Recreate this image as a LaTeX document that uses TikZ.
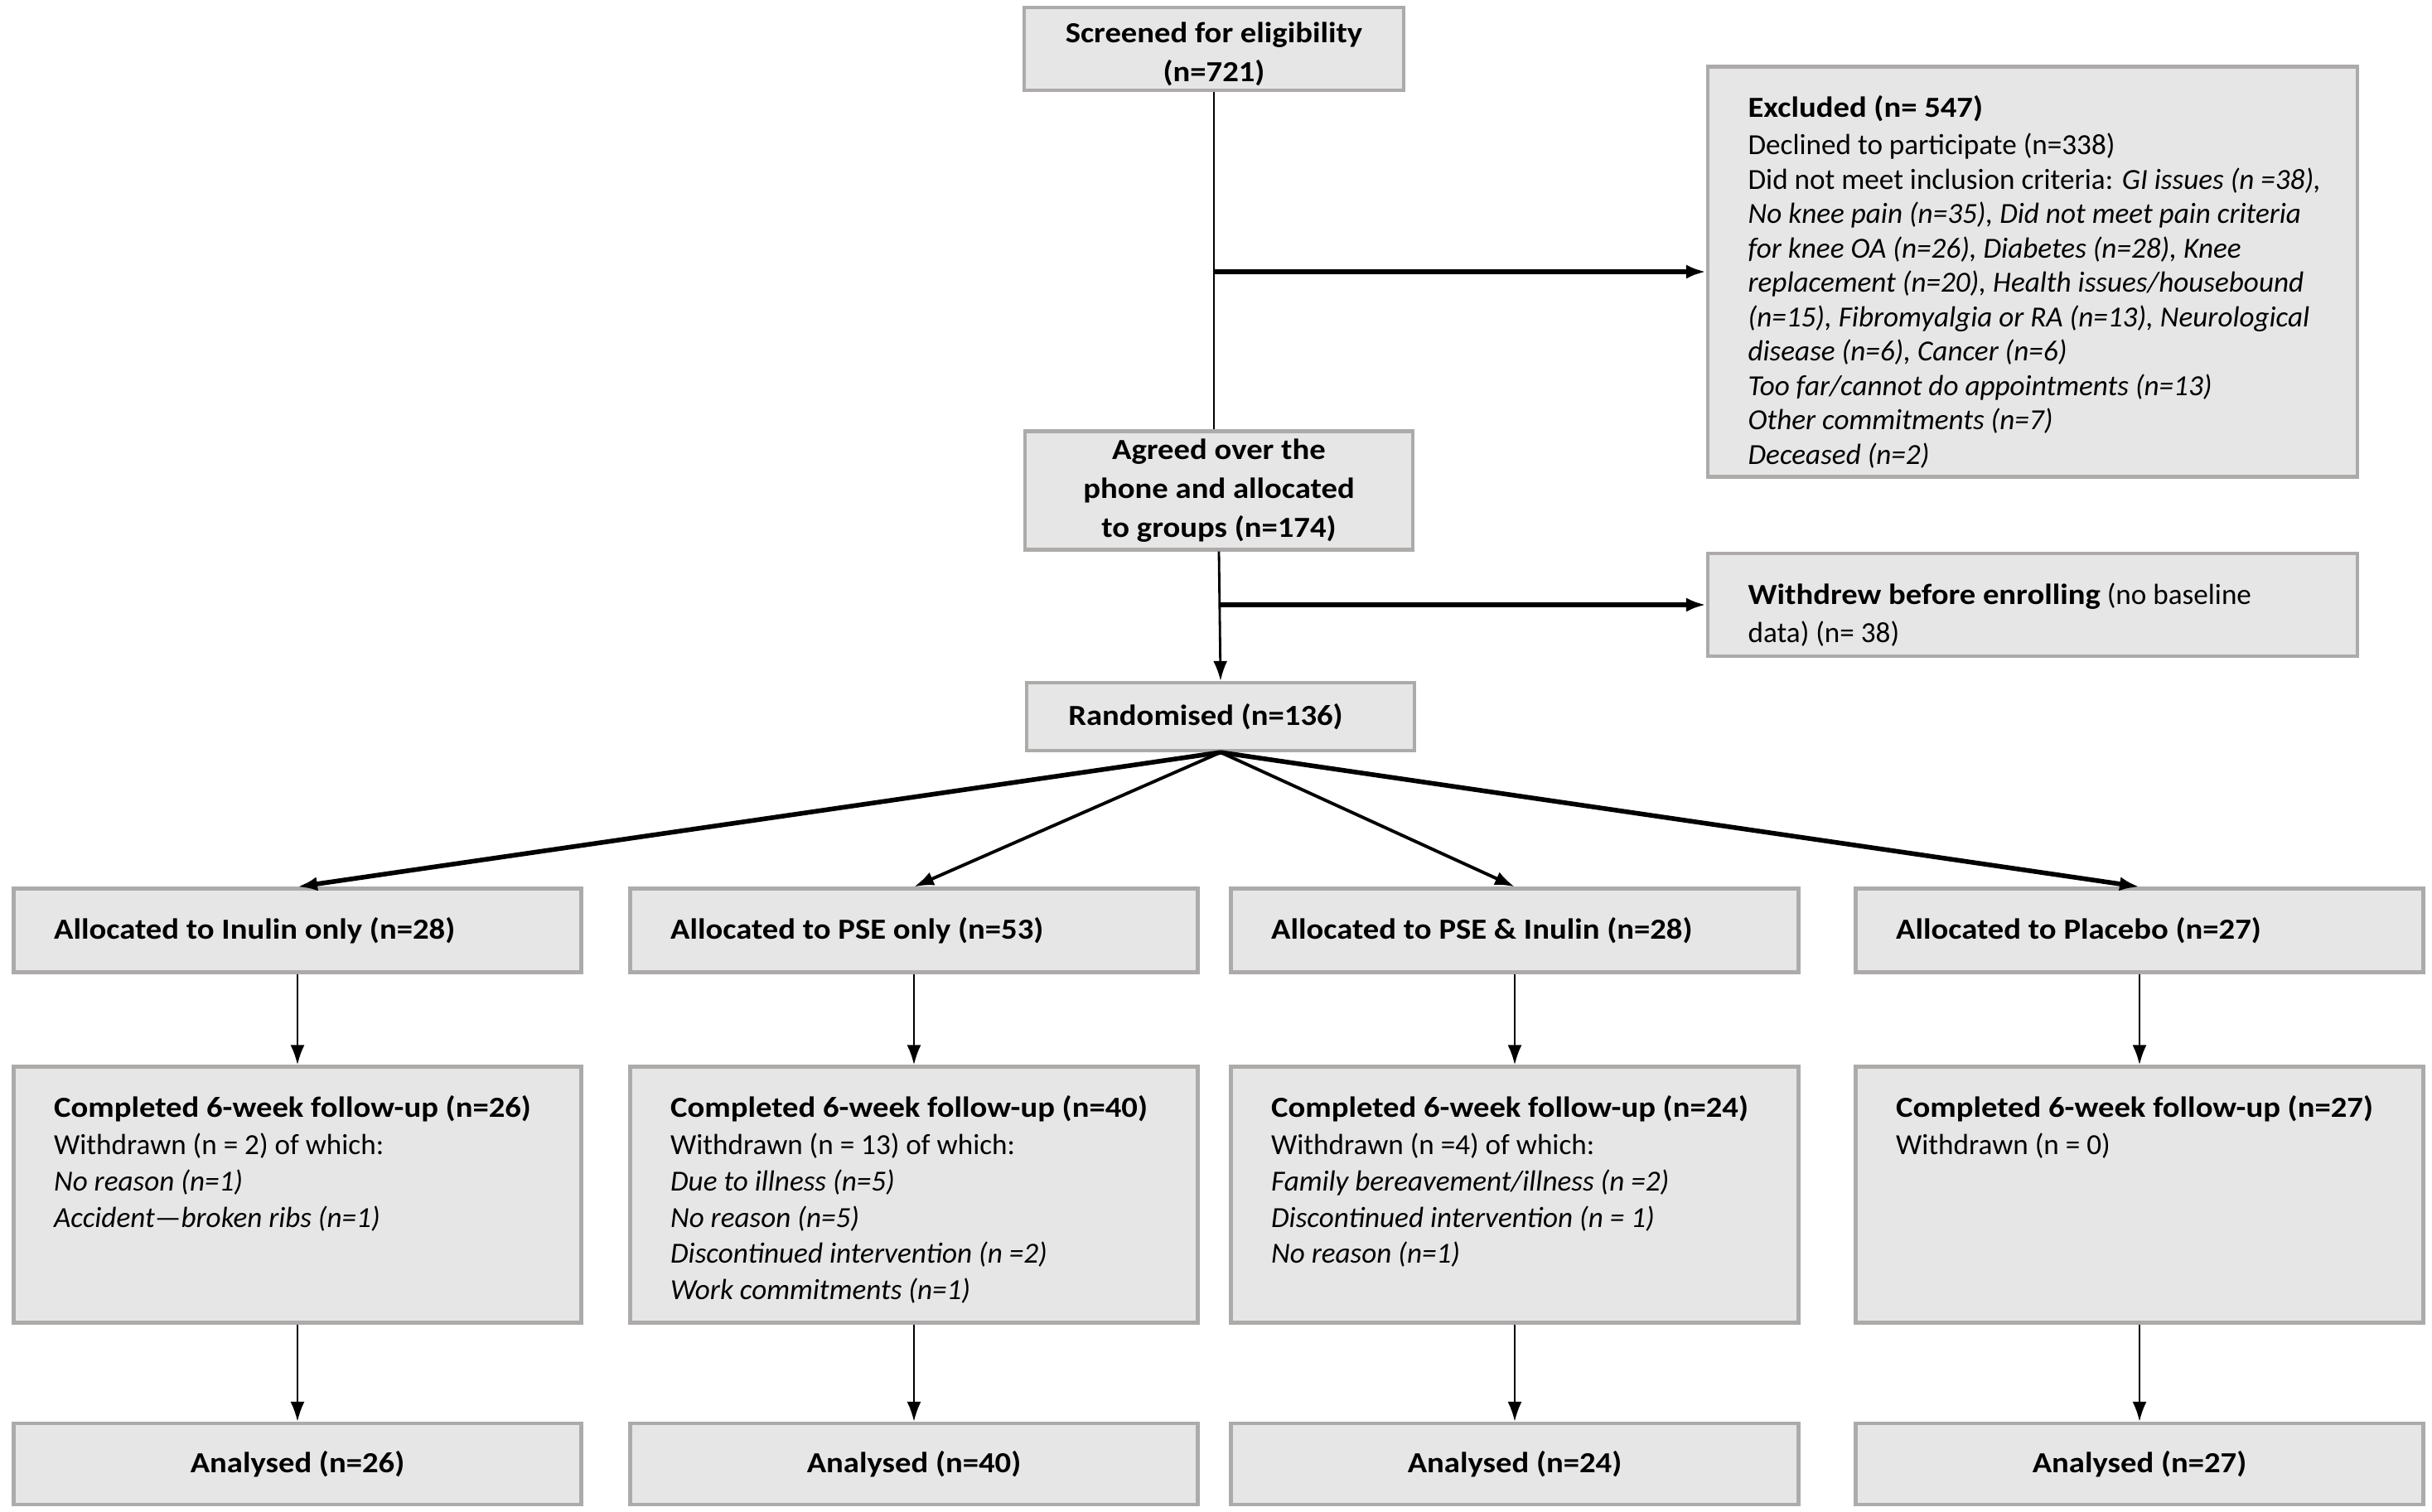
\documentclass[tikz,border=0pt]{standalone}
\usepackage{fontspec}
\setmainfont{Carlito}[BoldFeatures={FakeStretch=1.1}]
\usetikzlibrary{positioning, arrows.meta, calc}
\definecolor{boxfill}{HTML}{E6E6E6}
\definecolor{boxline}{HTML}{ADAAAA}
\tikzset{
	flowbox/.style={
			shape=rectangle,
			draw=boxline,
			fill=boxfill,
			line width=1.2pt,
			inner sep=0pt
		},
	boxtext/.style={
			inner sep=0pt,
			text=black,
			align=left,
			font=\fontsize{10}{11.8}\selectfont
		},
	headtext/.style={
			boxtext,
			align=center,
			font=\fontsize{10}{13.4}\selectfont\bfseries
		},
	flowline/.style={
			line width=0.8pt
		},
	flowarrow/.style={
			flowline,
			-{Latex[length=2.4mm,width=1.7mm]}
		},
	boldarrow/.style={
			flowarrow,
			line width=1.6pt
		}
}

\begin{document}
\begin{tikzpicture}
  \useasboundingbox (0,0) rectangle (29.35,-18.25);

  % screening and enrolment
  \node[flowbox, minimum width=4.58cm, minimum height=1.00cm] (screen) at (14.65,-0.59) {};
  \node[flowbox, minimum width=7.84cm, minimum height=4.95cm] (excl) at (24.53,-3.28) {};
  \node[flowbox, minimum width=4.68cm, minimum height=1.43cm] (agreed) at (14.71,-5.92) {};
  \node[flowbox, minimum width=7.84cm, minimum height=1.24cm] (withdrew) at (24.53,-7.30) {};
  \node[flowbox, minimum width=4.68cm, minimum height=0.82cm] (rand) at (14.73,-8.65) {};

  \node[headtext, yshift=-0.06cm] (screentext) at (screen) {Screened for eligibility\\(n=721)};
  \node[headtext] (agreedtext) at (agreed) {Agreed over the\\phone and allocated\\to groups (n=174)};
  \node[headtext, xshift=-0.18cm] (randtext) at (rand) {Randomised (n=136)};
  \node[boxtext, anchor=north west] (excltext) at ([shift={(0.5,-0.36)}]excl.north west)
    {\textbf{Excluded (n= 547)}\\[1.2pt]
     Declined to participate (n=338)\\
     Did not meet inclusion criteria: \textit{GI issues (n =38),}\\
     \textit{No knee pain (n=35), Did not meet pain criteria}\\
     \textit{for knee OA (n=26), Diabetes (n=28), Knee}\\
     \textit{replacement (n=20), Health issues/housebound}\\
     \textit{(n=15), Fibromyalgia or RA (n=13), Neurological}\\
     \textit{disease (n=6), Cancer (n=6)}\\
     \textit{Too far/cannot do appointments (n=13)}\\
     \textit{Other commitments (n=7)}\\
     \textit{Deceased (n=2)}};
  \node[boxtext, anchor=west] (withdrewtext) at ([shift={(0.5,-0.12)}]withdrew.west)
    {\textbf{Withdrew before enrolling} (no baseline\\[1.5pt]data) (n= 38)};

  % allocation
  \node[flowbox, minimum width=6.85cm, minimum height=1.01cm] (a1) at (3.59,-11.23) {};
  \node[flowbox, minimum width=6.85cm, minimum height=1.01cm] (a2) at (11.03,-11.23) {};
  \node[flowbox, minimum width=6.85cm, minimum height=1.01cm] (a3) at (18.28,-11.23) {};
  \node[flowbox, minimum width=6.85cm, minimum height=1.01cm] (a4) at (25.82,-11.23) {};

  \node[boxtext, anchor=west] (ta1) at ([xshift=0.5cm]a1.west) {\textbf{Allocated to Inulin only (n=28)}};
  \node[boxtext, anchor=west] (ta2) at ([xshift=0.5cm]a2.west) {\textbf{Allocated to PSE only (n=53)}};
  \node[boxtext, anchor=west] (ta3) at ([xshift=0.5cm]a3.west) {\textbf{Allocated to PSE \& Inulin (n=28)}};
  \node[boxtext, anchor=west] (ta4) at ([xshift=0.5cm]a4.west) {\textbf{Allocated to Placebo (n=27)}};

  % follow-up
  \node[flowbox, minimum width=6.85cm, minimum height=3.09cm] (c1) at (3.59,-14.42) {};
  \node[flowbox, minimum width=6.85cm, minimum height=3.09cm] (c2) at (11.03,-14.42) {};
  \node[flowbox, minimum width=6.85cm, minimum height=3.09cm] (c3) at (18.28,-14.42) {};
  \node[flowbox, minimum width=6.85cm, minimum height=3.09cm] (c4) at (25.82,-14.42) {};

  \node[boxtext, anchor=north west, font=\fontsize{10}{12.4}\selectfont] (tc1) at ([shift={(0.5,-0.36)}]c1.north west)
    {\textbf{Completed 6-week follow-up (n=26)}\\[0.6pt]
     Withdrawn (n = 2) of which:\\
     \textit{No reason (n=1)}\\
     \textit{Accident---broken ribs (n=1)}};
  \node[boxtext, anchor=north west, font=\fontsize{10}{12.4}\selectfont] (tc2) at ([shift={(0.5,-0.36)}]c2.north west)
    {\textbf{Completed 6-week follow-up (n=40)}\\[0.6pt]
     Withdrawn (n = 13) of which:\\
     \textit{Due to illness (n=5)}\\
     \textit{No reason (n=5)}\\
     \textit{Discontinued intervention (n =2)}\\
     \textit{Work commitments (n=1)}};
  \node[boxtext, anchor=north west, font=\fontsize{10}{12.4}\selectfont] (tc3) at ([shift={(0.5,-0.36)}]c3.north west)
    {\textbf{Completed 6-week follow-up (n=24)}\\[0.6pt]
     Withdrawn (n =4) of which:\\
     \textit{Family bereavement/illness (n =2)}\\
     \textit{Discontinued intervention (n = 1)}\\
     \textit{No reason (n=1)}};
  \node[boxtext, anchor=north west, font=\fontsize{10}{12.4}\selectfont] (tc4) at ([shift={(0.5,-0.36)}]c4.north west)
    {\textbf{Completed 6-week follow-up (n=27)}\\[0.6pt]
     Withdrawn (n = 0)};

  % analysis
  \node[flowbox, minimum width=6.85cm, minimum height=0.98cm] (n1) at (3.59,-17.67) {};
  \node[flowbox, minimum width=6.85cm, minimum height=0.98cm] (n2) at (11.03,-17.67) {};
  \node[flowbox, minimum width=6.85cm, minimum height=0.98cm] (n3) at (18.28,-17.67) {};
  \node[flowbox, minimum width=6.85cm, minimum height=0.98cm] (n4) at (25.82,-17.67) {};

  \node[headtext] (tn1) at (n1) {Analysed (n=26)};
  \node[headtext] (tn2) at (n2) {Analysed (n=40)};
  \node[headtext] (tn3) at (n3) {Analysed (n=24)};
  \node[headtext] (tn4) at (n4) {Analysed (n=27)};

  % connectors
  \draw[flowline] (screen.south) -- (screen.south |- agreed.north);
  \coordinate (split1) at (screen.south |- excl.west);
  \draw[boldarrow] (split1) -- (excl.west);
  \draw[flowarrow] (agreed.south) -- (rand.north);
  \coordinate (split2) at (agreed.south |- withdrew.west);
  \draw[boldarrow] (split2) -- (withdrew.west);

  \draw[boldarrow] (rand.south) -- (a1.north);
  \draw[flowarrow, line width=1.1pt] (rand.south) -- (a2.north);
  \draw[flowarrow, line width=1.1pt] (rand.south) -- (a3.north);
  \draw[boldarrow] (rand.south) -- (a4.north);

  \draw[flowarrow] (a1.south) -- (c1.north);
  \draw[flowarrow] (a2.south) -- (c2.north);
  \draw[flowarrow] (a3.south) -- (c3.north);
  \draw[flowarrow] (a4.south) -- (c4.north);

  \draw[flowarrow] (c1.south) -- (n1.north);
  \draw[flowarrow] (c2.south) -- (n2.north);
  \draw[flowarrow] (c3.south) -- (n3.north);
  \draw[flowarrow] (c4.south) -- (n4.north);

\end{tikzpicture}
\end{document}
